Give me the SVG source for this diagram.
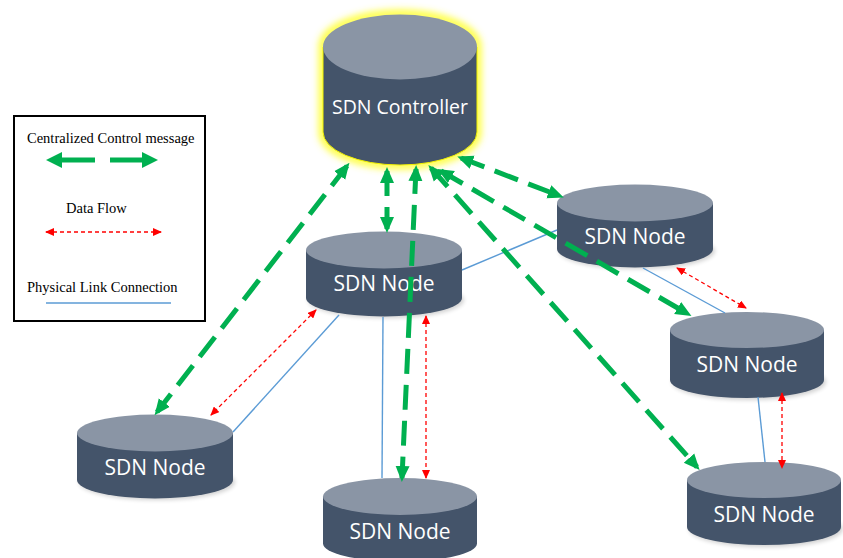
<svg xmlns="http://www.w3.org/2000/svg" width="843" height="558" viewBox="0 0 843 558">
<style>
.top{fill:#8a95a5}
.body{fill:#44546a}
.lbl{font-family:"Open Sans","Noto Sans",sans-serif;fill:#ffffff;text-anchor:middle}
.leg{font-family:"Liberation Serif","Times New Roman",serif;font-size:14.5px;fill:#000}
.ctl{fill:none;stroke:#00b050;stroke-width:5;stroke-dasharray:25 11}
.ctls{fill:none;stroke:#00b050;stroke-width:5}
.df{fill:none;stroke:#ff0000;stroke-width:1.3;stroke-dasharray:4 3}
.pl{fill:none;stroke:#5b9bd5;stroke-width:1.4}
</style>
<defs>
<marker id="gh" markerUnits="userSpaceOnUse" markerWidth="16" markerHeight="16" viewBox="0 0 16 16" refX="12" refY="8" orient="auto-start-reverse">
<path d="M0,1 L16,8 L0,15 z" fill="#00b050"/>
</marker>
<marker id="rh" markerUnits="userSpaceOnUse" markerWidth="9" markerHeight="8" viewBox="0 0 9 8" refX="8" refY="4" orient="auto-start-reverse">
<path d="M0,0 L9,4 L0,8 z" fill="#ff0000"/>
</marker>
<filter id="glow" x="-20%" y="-20%" width="140%" height="140%">
<feGaussianBlur stdDeviation="3.5"/>
</filter>
<filter id="sh" x="-10%" y="-20%" width="130%" height="150%">
<feGaussianBlur stdDeviation="2"/>
</filter>
</defs>

<g id="legend">
<rect x="14" y="116" width="191" height="205" fill="#ffffff" stroke="#000" stroke-width="2"/>
<text class="leg" x="27" y="143">Centralized Control message</text>
<line class="ctls" x1="95" y1="160" x2="60" y2="160"/>
<path d="M46,160 L62,152 L62,168 z" fill="#00b050"/>
<line class="ctls" x1="110" y1="160" x2="145" y2="160"/>
<path d="M158,160 L142,152 L142,168 z" fill="#00b050"/>
<text class="leg" x="66" y="213">Data Flow</text>
<line class="df" x1="46" y1="232" x2="161" y2="232" marker-start="url(#rh)" marker-end="url(#rh)"/>
<text class="leg" x="27" y="292">Physical Link Connection</text>
<line class="pl" x1="46" y1="303" x2="171" y2="303"/>
</g>

<g id="controller">
<path d="M323,47 V132 A77,33 0 0 0 477,132 V47 A77,33 0 0 0 323,47 z" fill="none" stroke="#ffff40" stroke-width="9" filter="url(#glow)"/>
<path d="M323,47 V132 A77,33 0 0 0 477,132 V47 z" class="body" stroke="#f2f200" stroke-width="1"/>
<ellipse cx="400" cy="47" rx="77" ry="32.5" class="top"/>
<text class="lbl" x="400" y="114" font-size="19.5">SDN Controller</text>
</g>

<g id="node1" transform="translate(384,250)">
<ellipse cx="2" cy="50" rx="78" ry="18" fill="#000" opacity="0.18" filter="url(#sh)"/>
<path d="M-78,0 V48 A78,18.5 0 0 0 78,48 V0 z" class="body"/>
<ellipse cx="0" cy="0" rx="78" ry="18.5" class="top"/>
<text class="lbl" x="0" y="41" font-size="21">SDN Node</text>
</g>

<g id="node2" transform="translate(635,203)">
<ellipse cx="2" cy="48" rx="78" ry="18" fill="#000" opacity="0.18" filter="url(#sh)"/>
<path d="M-78,0 V46 A78,18.5 0 0 0 78,46 V0 z" class="body"/>
<ellipse cx="0" cy="0" rx="78" ry="18.5" class="top"/>
<text class="lbl" x="0" y="41" font-size="21">SDN Node</text>
</g>

<g id="node3" transform="translate(747,330)">
<ellipse cx="2" cy="52" rx="77" ry="18" fill="#000" opacity="0.18" filter="url(#sh)"/>
<path d="M-77,0 V50 A77,18 0 0 0 77,50 V0 z" class="body"/>
<ellipse cx="0" cy="0" rx="77" ry="18" class="top"/>
<text class="lbl" x="0" y="42" font-size="21">SDN Node</text>
</g>

<g id="node4" transform="translate(764,480)">
<ellipse cx="2" cy="49" rx="77" ry="18" fill="#000" opacity="0.18" filter="url(#sh)"/>
<path d="M-77,0 V47 A77,18 0 0 0 77,47 V0 z" class="body"/>
<ellipse cx="0" cy="0" rx="77" ry="18" class="top"/>
<text class="lbl" x="0" y="42" font-size="21">SDN Node</text>
</g>

<g id="node5" transform="translate(155,433)">
<ellipse cx="2" cy="49" rx="78" ry="18" fill="#000" opacity="0.18" filter="url(#sh)"/>
<path d="M-78,0 V47 A78,18.5 0 0 0 78,47 V0 z" class="body"/>
<ellipse cx="0" cy="0" rx="78" ry="18.5" class="top"/>
<text class="lbl" x="0" y="42" font-size="21">SDN Node</text>
</g>

<g id="node6" transform="translate(400,496.5)">
<path d="M-77,0 V47 A77,18 0 0 0 77,47 V0 z" class="body"/>
<ellipse cx="0" cy="0" rx="77" ry="18.5" class="top"/>
<text class="lbl" x="0" y="42.5" font-size="21">SDN Node</text>
</g>

<g id="connectors">
<line class="pl" x1="339" y1="315" x2="233" y2="432"/>
<line class="pl" x1="383" y1="317" x2="382" y2="478"/>
<line class="pl" x1="462" y1="270" x2="557" y2="230"/>
<line class="pl" x1="643" y1="268" x2="725" y2="313"/>
<line class="pl" x1="758" y1="397" x2="765" y2="462"/>

<line class="df" x1="316" y1="310" x2="211" y2="415" marker-start="url(#rh)" marker-end="url(#rh)"/>
<line class="df" x1="426" y1="316" x2="426" y2="478" marker-start="url(#rh)" marker-end="url(#rh)"/>
<line class="df" x1="677" y1="268" x2="746" y2="308" marker-start="url(#rh)" marker-end="url(#rh)"/>
<line class="df" x1="782" y1="393" x2="782" y2="468" marker-start="url(#rh)" marker-end="url(#rh)"/>

<line class="ctl" x1="347" y1="166" x2="157" y2="412" marker-start="url(#gh)" marker-end="url(#gh)"/>
<line class="ctl" x1="387" y1="171" x2="387" y2="229" stroke-dasharray="11 15 40" marker-start="url(#gh)" marker-end="url(#gh)"/>
<line class="ctl" x1="416" y1="169" x2="402" y2="478" marker-start="url(#gh)" marker-end="url(#gh)"/>
<line class="ctl" x1="431" y1="168" x2="697" y2="467" marker-start="url(#gh)" marker-end="url(#gh)"/>
<line class="ctl" x1="441" y1="171" x2="688" y2="314" marker-start="url(#gh)" marker-end="url(#gh)"/>
<line class="ctl" x1="461" y1="158" x2="560" y2="196" marker-start="url(#gh)" marker-end="url(#gh)"/>
</g>
</svg>
